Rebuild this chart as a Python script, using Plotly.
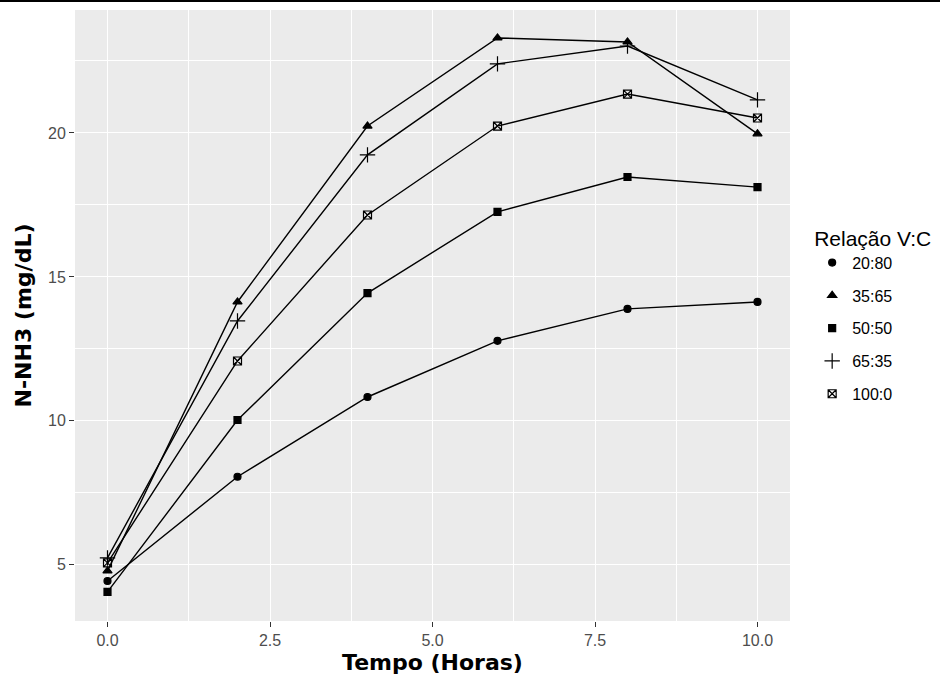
import plotly.graph_objects as go

tempo = [0, 2, 4, 6, 8, 10]
series_names = ["20:80", "35:65", "50:50", "65:35", "100:0"]
v_20_80 = [4.44, 8.06, 10.83, 12.78, 13.89, 14.13]
v_35_65 = [4.79, 14.13, 20.24, 23.30, 23.16, 19.97]
v_50_50 = [4.06, 10.03, 14.44, 17.26, 18.47, 18.12]
v_65_35 = [5.24, 13.47, 19.24, 22.40, 23.02, 21.15]
v_100_0 = [5.07, 12.08, 17.15, 20.24, 21.35, 20.52]
values = [v_20_80, v_35_65, v_50_50, v_65_35, v_100_0]

x_ticks = [0, 2.5, 5, 7.5, 10]
x_ticklabels = ["0.0", "2.5", "5.0", "7.5", "10.0"]
y_ticks = [5, 10, 15, 20]

symbols = ["circle", "triangle-up", "square", "cross-thin-open", "square-x-open"]
sizes = [7, 8, 7, 11, 8]

W, H = 940, 676
ML, MR, MT, MB = 75, 150, 10, 55

fig = go.Figure()
for name, vals, sym, sz in zip(series_names, values, symbols, sizes):
    fig.add_trace(go.Scatter(
        x=tempo, y=vals, mode="lines+markers", name=name, showlegend=False,
        line=dict(color="black", width=1.4),
        marker=dict(symbol=sym, size=sz, color="black",
                    line=dict(color="black", width=1.2)),
    ))
for name, sym, sz in zip(series_names, symbols, sizes):
    fig.add_trace(go.Scatter(
        x=[None], y=[None], mode="markers", name=name, legendgroup=name,
        marker=dict(symbol=sym, size=sz, color="black",
                    line=dict(color="black", width=1.2)),
    ))

tickfont = dict(family="Liberation Sans, Arial, sans-serif", size=16, color="#4D4D4D")
titlefont = dict(family="DejaVu Sans, sans-serif", size=22, color="black")
axis_common = dict(
    showgrid=True, gridcolor="white", gridwidth=1.2,
    zeroline=False, showline=False, automargin=False,
    ticks="outside", ticklen=5, tickcolor="#333333", tickwidth=1,
    tickfont=tickfont,
)

pw = W - ML - MR
ph = H - MT - MB
fig.add_shape(type="line", xref="paper", yref="paper",
              x0=-ML / pw, x1=1 + MR / pw,
              y0=1 + (MT - 1) / ph, y1=1 + (MT - 1) / ph,
              line=dict(color="black", width=2))

fig.update_layout(
    width=W, height=H,
    paper_bgcolor="white", plot_bgcolor="#EBEBEB",
    margin=dict(l=ML, r=MR, t=MT, b=MB, autoexpand=False),
    font=dict(family="Liberation Sans, Arial, sans-serif", color="black"),
    xaxis=dict(
        **axis_common, range=[-0.5, 10.5], tickvals=x_ticks, ticktext=x_ticklabels,
        minor=dict(tickvals=[1.25, 3.75, 6.25, 8.75], showgrid=True,
                   gridcolor="white", gridwidth=0.6, ticks=""),
        title=dict(text="<b>Tempo (Horas)</b>", font=titlefont, standoff=6),
    ),
    yaxis=dict(
        **axis_common, range=[3.05, 24.27], tickvals=y_ticks,
        minor=dict(tickvals=[7.5, 12.5, 17.5, 22.5], showgrid=True,
                   gridcolor="white", gridwidth=0.6, ticks=""),
        title=dict(text="<b>N-NH3 (mg/dL)</b>", font=titlefont, standoff=10),
    ),
    legend=dict(
        title=dict(text="Relação V:C", font=dict(size=21)),
        font=dict(size=16),
        x=1.031, xanchor="left", y=0.659, yanchor="top",
        tracegroupgap=9, itemsizing="trace",
        bgcolor="rgba(0,0,0,0)",
    ),
)

fig.write_html("out.html", config={"displayModeBar": False},
               post_script="document.body.style.margin='0';")
